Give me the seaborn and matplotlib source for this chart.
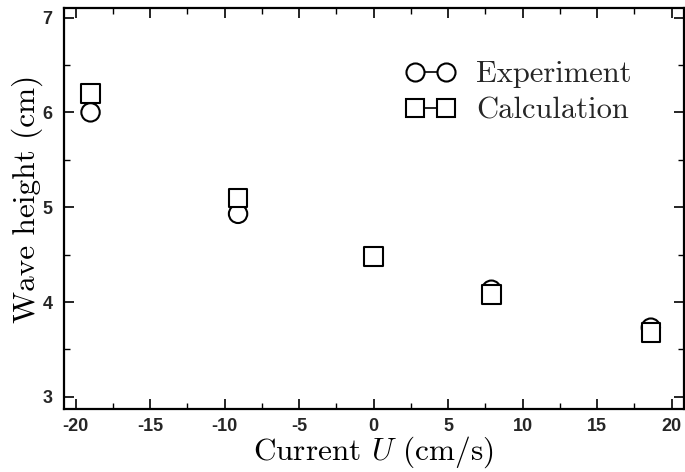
import matplotlib
matplotlib.use("Agg")
import matplotlib.pyplot as plt
from matplotlib.lines import Line2D
from matplotlib.ticker import MultipleLocator
import seaborn as sns
import pandas as pd

# values
current = [-19.0, -9.1, 0.0, 7.9, 18.6]
experiment = [6.00, 4.93, 4.48, 4.13, 3.73]
calculation = [6.20, 5.10, 4.48, 4.08, 3.68]

df = pd.DataFrame({
    "U": current * 2,
    "H": experiment + calculation,
    "Series": ["Experiment"] * len(current) + ["Calculation"] * len(current),
})

sns.set_theme(style="ticks")
plt.rcParams["mathtext.fontset"] = "cm"
plt.rcParams["font.family"] = ["cmr10", "DejaVu Serif"]
plt.rcParams["axes.formatter.use_mathtext"] = True

fig = plt.figure(figsize=(6.85, 4.72), dpi=100)
ax = fig.add_axes([0.093, 0.133, 0.905, 0.850])

# circles first, squares drawn over them with a white fill
sns.scatterplot(data=df, x="U", y="H", style="Series",
                markers={"Experiment": "o", "Calculation": "s"},
                s=175, facecolor="white", edgecolor="black", linewidth=1.5,
                legend=False, ax=ax, zorder=3)

ax.set_xlim(-20.8, 20.8)
ax.set_ylim(2.87, 7.1)
ax.xaxis.set_major_locator(MultipleLocator(5))
ax.xaxis.set_minor_locator(MultipleLocator(2.5))
ax.yaxis.set_major_locator(MultipleLocator(1))
ax.yaxis.set_minor_locator(MultipleLocator(0.5))
ax.tick_params(which="both", direction="in", top=True, right=True, color="black")
ax.tick_params(which="major", length=7, width=1.2)
ax.tick_params(which="minor", length=4, width=1.0)
ax.tick_params(axis="x", which="major", pad=6)
ax.tick_params(axis="y", which="major", pad=8)
for sp in ax.spines.values():
    sp.set_color("black")
    sp.set_linewidth(1.6)

tick_font = dict(family=["Liberation Sans", "DejaVu Sans"], weight="bold", size=13)
xt = [-20, -15, -10, -5, 0, 5, 10, 15, 20]
ax.set_xticks(xt)
ax.set_xticklabels([str(v) for v in xt], **tick_font)
ax.set_yticks([3, 4, 5, 6, 7])
ax.set_yticklabels(["3", "4", "5", "6", "7"], **tick_font)

ax.set_xlabel("Current $U$ (cm/s)", fontsize=22.5, color="black", labelpad=0)
ax.set_ylabel("Wave height (cm)", fontsize=22.5, color="black")
ax.yaxis.set_label_coords(-0.033, 0.525)

handles = [
    Line2D([], [], color="black", lw=1.2, marker="o", markersize=13,
           markerfacecolor="white", markeredgecolor="black", markeredgewidth=1.5),
    Line2D([], [], color="black", lw=1.2, marker="s", markersize=13,
           markerfacecolor="white", markeredgecolor="black", markeredgewidth=1.5),
]
ax.legend(handles, ["Experiment", "Calculation"], loc="upper left",
          bbox_to_anchor=(0.507, 0.937), frameon=False, numpoints=2,
          handlelength=1.64, handletextpad=0.66, labelspacing=0.3,
          prop={"family": ["cmr10", "DejaVu Serif"], "size": 22})

fig.savefig("out.png", dpi=100)
